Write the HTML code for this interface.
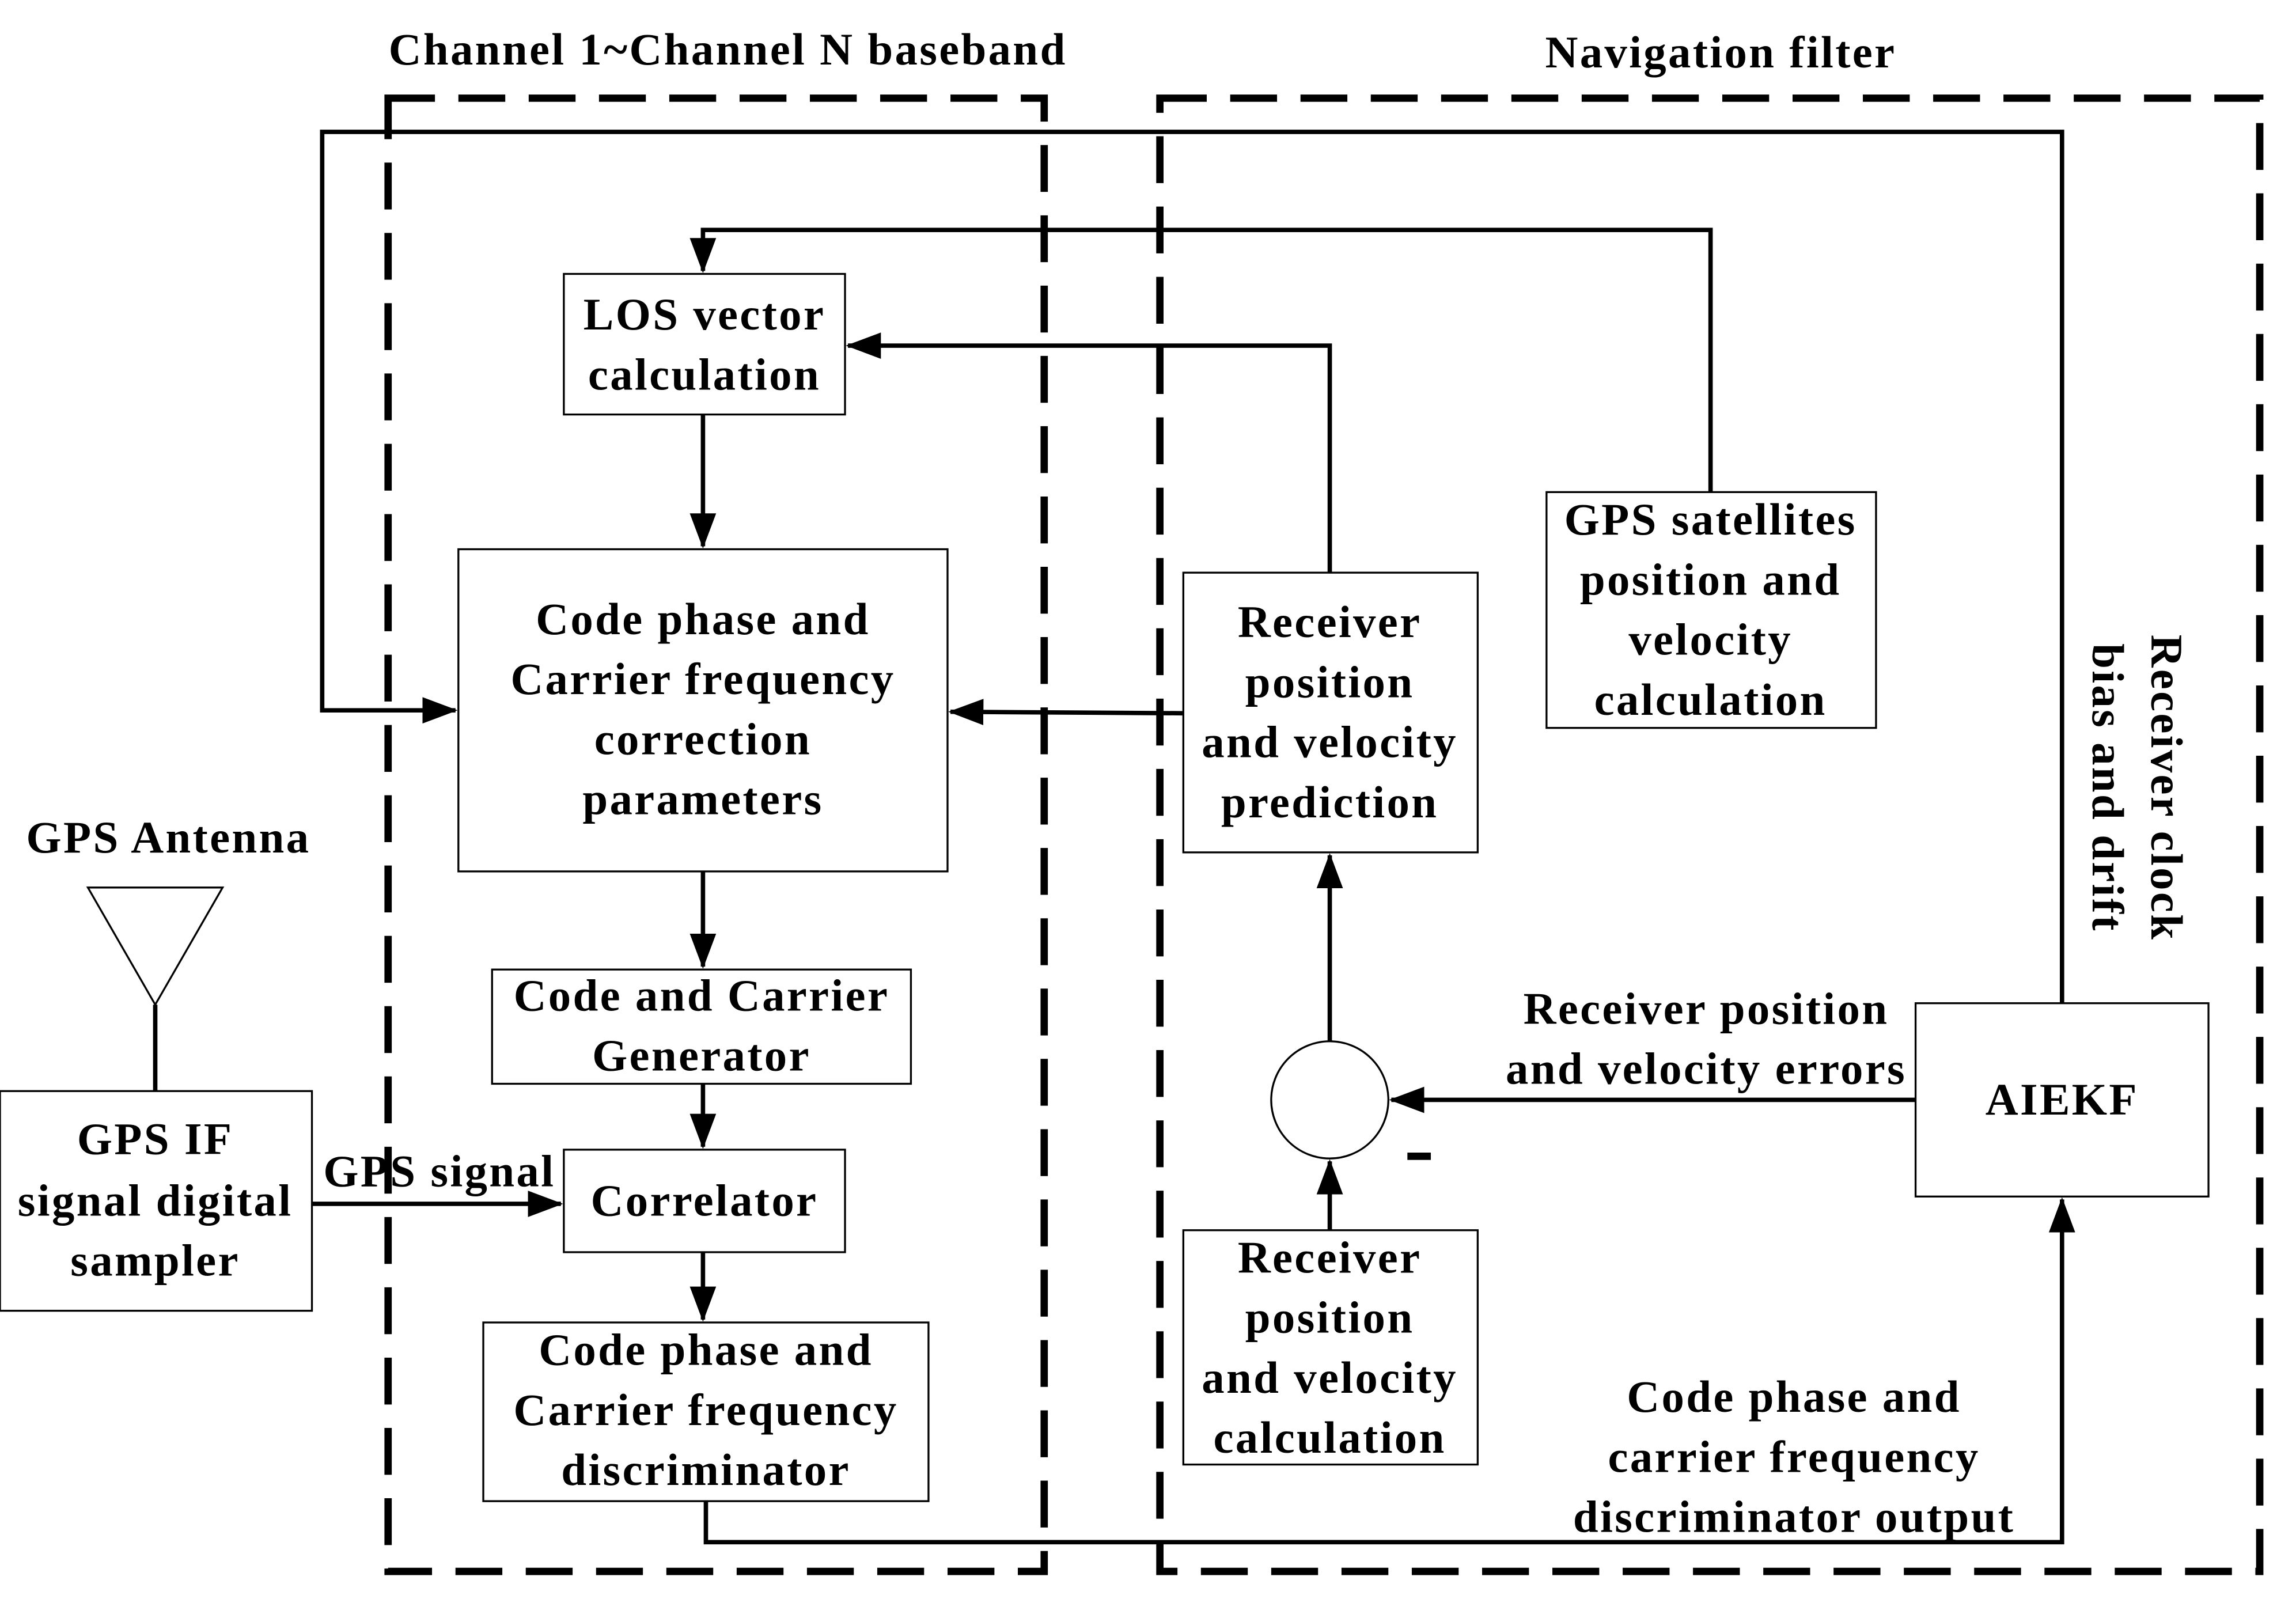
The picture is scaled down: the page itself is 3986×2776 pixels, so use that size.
<!DOCTYPE html>
<html><head><meta charset="utf-8"><style>html,body{margin:0;padding:0;background:#fff}svg{display:block}</style></head>
<body>
<svg width="3986" height="2776" viewBox="0 0 1556 1083.6" xmlns="http://www.w3.org/2000/svg">
<defs>
<marker id="a" markerWidth="8" markerHeight="6" refX="7.5" refY="3" orient="auto" markerUnits="strokeWidth">
<path d="M0,0 L8,3 L0,6 Z" fill="#000"/>
</marker>
</defs>
<rect width="1556" height="1084" fill="#fff"/>
<g transform="scale(0.9925)">
<g fill="none" stroke="#000" stroke-width="5" stroke-dasharray="32,16">
<rect x="265" y="67" width="448" height="1006"/>
<rect x="792" y="67" width="751" height="1006"/>
</g>
<g fill="#fff" stroke="#000" stroke-width="1.3">
<rect x="385" y="187" width="192" height="96"/>
<rect x="313" y="375" width="334" height="220"/>
<rect x="336" y="662" width="286" height="78"/>
<rect x="385" y="785" width="192" height="70"/>
<rect x="330" y="903" width="304" height="122"/>
<rect x="0" y="745" width="213" height="150"/>
<rect x="808" y="391" width="201" height="191"/>
<rect x="1056" y="336" width="225" height="161"/>
<rect x="808" y="840" width="201" height="160"/>
<rect x="1308" y="685" width="200" height="132"/>
<circle cx="908" cy="751" r="40"/>
<path d="M60,606 L152,606 L106,686 Z"/>
</g>
<g fill="none" stroke="#000" stroke-width="3">
<line x1="106" y1="686" x2="106" y2="745"/>
<polyline points="1408,685 1408,90 220,90 220,485 311,485" marker-end="url(#a)"/>
<polyline points="1168,336 1168,157 480,157 480,185" marker-end="url(#a)"/>
<polyline points="908,391 908,236 579,236" marker-end="url(#a)"/>
<line x1="480" y1="283" x2="480" y2="373" marker-end="url(#a)"/>
<line x1="808" y1="487" x2="649" y2="486" marker-end="url(#a)"/>
<line x1="480" y1="595" x2="480" y2="660" marker-end="url(#a)"/>
<line x1="480" y1="740" x2="480" y2="783" marker-end="url(#a)"/>
<line x1="480" y1="855" x2="480" y2="901" marker-end="url(#a)"/>
<polyline points="482,1025 482,1053 1408,1053 1408,819" marker-end="url(#a)"/>
<line x1="213" y1="822" x2="383" y2="822" marker-end="url(#a)"/>
<line x1="908" y1="711" x2="908" y2="584" marker-end="url(#a)"/>
<line x1="908" y1="840" x2="908" y2="793" marker-end="url(#a)"/>
<line x1="1308" y1="751" x2="950" y2="751" marker-end="url(#a)"/>
</g>
<rect x="961" y="787" width="16" height="5" fill="#000"/>
<g font-family="Liberation Serif, serif" font-weight="bold" font-size="31" letter-spacing="1.3" text-anchor="middle" fill="#000">
<text x="497" y="44">Channel 1~Channel N baseband</text>
<text x="1175" y="46">Navigation filter</text>
<text x="481" y="225">LOS vector</text>
<text x="481" y="266">calculation</text>
<text x="480" y="433">Code phase and</text>
<text x="480" y="474">Carrier frequency</text>
<text x="480" y="515">correction</text>
<text x="480" y="556">parameters</text>
<text x="479" y="690">Code and Carrier</text>
<text x="479" y="731">Generator</text>
<text x="481" y="830">Correlator</text>
<text x="482" y="932">Code phase and</text>
<text x="482" y="973">Carrier frequency</text>
<text x="482" y="1014">discriminator</text>
<text x="106" y="788">GPS IF</text>
<text x="106" y="830">signal digital</text>
<text x="106" y="871">sampler</text>
<text x="115" y="582">GPS Antenna</text>
<text x="300" y="810">GPS signal</text>
<text x="908" y="435">Receiver</text>
<text x="908" y="476">position</text>
<text x="908" y="517">and velocity</text>
<text x="908" y="558">prediction</text>
<text x="1168" y="365">GPS satellites</text>
<text x="1168" y="406">position and</text>
<text x="1168" y="447">velocity</text>
<text x="1168" y="488">calculation</text>
<text x="908" y="869">Receiver</text>
<text x="908" y="910">position</text>
<text x="908" y="951">and velocity</text>
<text x="908" y="992">calculation</text>
<text x="1408" y="761">AIEKF</text>
<text x="1165" y="699">Receiver position</text>
<text x="1165" y="740">and velocity errors</text>
<text x="1225" y="964">Code phase and</text>
<text x="1225" y="1005">carrier frequency</text>
<text x="1225" y="1046">discriminator output</text>
<text transform="translate(1469,538) rotate(90)" x="0" y="0">Receiver clock</text>
<text transform="translate(1429,538) rotate(90)" x="0" y="0">bias and drift</text>
</g>
</g>
</svg>
</body></html>
